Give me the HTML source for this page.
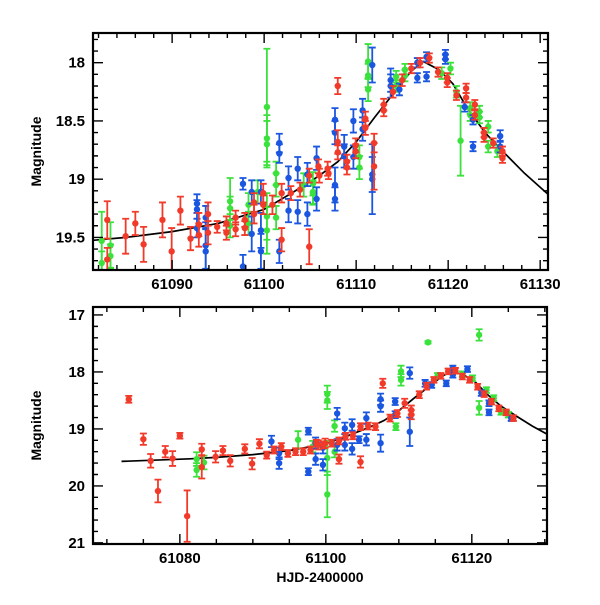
<!DOCTYPE html>
<html><head><meta charset="utf-8"><style>
body{margin:0;background:#fff}
svg text{font-family:"Liberation Sans",sans-serif;fill:#000}
</style></head><body>
<svg id="chart" width="600" height="600" viewBox="0 0 600 600" xmlns="http://www.w3.org/2000/svg"></svg>
<script>
// ---- model curve ----
const modelX=[61072,61081.4,61085,61090,61095,61100,61103,61106,61108,61110,61112,61114,61116,61117.3,61119,61120.5,61122,61124,61126.3,61128.3,61131];
const modelY=[19.57,19.525,19.5,19.45,19.38,19.26,19.12,18.97,18.85,18.68,18.47,18.27,18.07,17.99,18.06,18.18,18.38,18.6,18.79,18.95,19.14];
// ---- top panel ----
const topRedX=[61082.95,61082.95,61084.95,61086,61086.9,61088.95,61089.95,61090.9,61092,61092.9,61092.9,61093.9,61093.9,61094.9,61095.9,61095.9,61096.9,61096.9,61097.9,61097.9,61098.9,61098.9,61099.9,61099.9,61100.9,61101.9,61101.9,61102.9,61103.9,61104.9,61104.9,61105.9,61106.9,61106,61107,61108,61108,61108,61109,61109,61109.95,61109.95,61111,61111,61111.95,61111.95,61113,61113,61114,61115,61116,61116.95,61117.95,61118.9,61119.9,61119.9,61120.9,61121.95,61121.95,61122.9,61122.9,61123.9,61123.9,61124.9,61125.9,61125.9];
const topRedY=[19.35,19.69,19.49,19.38,19.56,19.35,19.62,19.27,19.51,19.39,19.48,19.3,19.46,19.41,19.38,19.46,19.33,19.43,19.35,19.42,19.2,19.3,19.12,19.22,19.22,19.12,19.52,19.12,19.09,18.97,19.58,18.89,18.91,18.97,18.95,18.2,18.68,18.77,18.85,18.9,18.71,18.76,18.48,18.56,18.69,18.89,18.36,18.41,18.25,18.15,18.05,18.0,17.96,18.08,18.13,18.17,18.28,18.22,18.3,18.36,18.45,18.6,18.64,18.69,18.76,18.82];
const topRedE=[0.16,0.1,0.15,0.1,0.15,0.15,0.2,0.12,0.1,0.1,0.1,0.1,0.1,0.05,0.06,0.06,0.06,0.06,0.06,0.06,0.08,0.08,0.08,0.08,0.08,0.08,0.1,0.06,0.06,0.06,0.15,0.06,0.06,0.06,0.05,0.07,0.1,0.06,0.06,0.06,0.06,0.06,0.06,0.06,0.08,0.2,0.05,0.05,0.05,0.05,0.04,0.04,0.04,0.04,0.04,0.04,0.04,0.04,0.04,0.04,0.04,0.04,0.04,0.04,0.04,0.04];
const topBlueX=[61092.7,61092.7,61092.7,61093.65,61093.65,61093.65,61097.7,61097.7,61098.65,61098.65,61099.65,61099.65,61099.65,61101.65,61101.65,61101.65,61102.65,61102.65,61103.65,61103.65,61104.7,61104.7,61105.7,61105.7,61107.7,61107.7,61107.7,61107.7,61108.7,61108.7,61109.7,61109.7,61110.7,61110.7,61111.75,61111.75,61111.75,61113.75,61113.75,61114.7,61116.65,61116.65,61117.65,61117.65,61119.7,61119.7,61121.8,61122.7,61122.7,61125.65,61125.65];
const topBlueY=[19.21,19.26,19.42,19.57,19.62,19.33,19.04,19.75,19.11,19.47,19.11,19.44,19.62,18.69,18.78,19.62,18.99,19.27,18.91,19.28,18.96,19.3,18.82,19.17,18.49,18.6,19.05,19.17,18.72,18.8,18.5,18.81,18.41,18.57,18.02,18.96,19.0,18.15,18.2,18.23,18.0,18.13,17.95,18.12,17.93,17.97,18.38,18.72,18.49,18.63,18.72];
const topBlueE=[0.08,0.08,0.08,0.2,0.2,0.1,0.05,0.1,0.1,0.15,0.1,0.15,0.15,0.08,0.08,0.1,0.1,0.1,0.1,0.1,0.1,0.1,0.1,0.1,0.1,0.1,0.15,0.1,0.1,0.1,0.1,0.1,0.1,0.1,0.15,0.15,0.3,0.1,0.1,0.05,0.04,0.04,0.04,0.04,0.04,0.04,0.04,0.04,0.04,0.05,0.05];
const topGreenX=[61082.35,61082.35,61083.3,61083.3,61096.3,61096.3,61096.3,61098.3,61098.3,61099.3,61100.3,61100.3,61100.3,61100.3,61100.3,61101.3,61101.3,61101.3,61104.3,61105.3,61105.3,61105.3,61110.35,61110.35,61111.3,61111.3,61111.3,61114.35,61114.35,61115.3,61115.3,61119.3,61120.25,61120.9,61121.35,61122.4,61122.4,61123.4,61123.4,61124.35,61124.35,61125.35];
const topGreenY=[19.53,19.72,19.57,19.66,19.19,19.25,19.4,19.22,19.38,19.11,18.38,18.65,18.7,19.32,19.44,18.95,19.05,19.33,19.05,19.12,19.04,19.11,18.81,18.9,17.99,18.11,18.23,18.12,18.2,18.06,18.11,18.09,18.05,18.25,18.67,18.39,18.45,18.42,18.47,18.55,18.72,18.76];
const topGreenE=[0.25,0.1,0.2,0.1,0.2,0.1,0.1,0.1,0.1,0.1,0.5,0.2,0.2,0.2,0.2,0.1,0.1,0.1,0.1,0.1,0.1,0.1,0.1,0.1,0.15,0.1,0.1,0.05,0.05,0.05,0.05,0.05,0.05,0.05,0.3,0.05,0.05,0.05,0.05,0.05,0.05,0.05];
// ---- bottom panel ----
const botRedX=[61073,61075,61076,61077,61078,61079,61080,61081,61083,61083,61084.9,61085.9,61086.9,61088.9,61089.9,61090.9,61091.9,61092.9,61093.9,61094.8,61095.85,61096.9,61097.9,61098.95,61099.9,61098.7,61099.7,61100.8,61101.8,61101.8,61102.7,61103.7,61104.75,61104.75,61105.8,61106.8,61107.8,61108.8,61109.8,61110.8,61111.7,61111.7,61112.8,61113.8,61114.8,61115.75,61116.75,61117.75,61118.7,61119.7,61120.8,61121.7,61122.7,61123.7,61124.7,61125.7];
const botRedY=[18.48,19.18,19.56,20.09,19.4,19.52,19.12,20.53,19.36,19.67,19.49,19.38,19.56,19.35,19.61,19.26,19.46,19.37,19.31,19.43,19.4,19.4,19.37,19.28,19.25,19.25,19.28,19.25,19.53,19.21,19.13,19.12,18.96,19.58,18.95,18.96,18.2,18.81,18.73,18.55,18.67,18.75,18.4,18.25,18.14,18.07,17.99,17.98,18.08,18.14,18.26,18.39,18.52,18.64,18.71,18.81];
const botRedE=[0.06,0.1,0.12,0.2,0.1,0.13,0.05,0.45,0.1,0.2,0.1,0.08,0.1,0.08,0.1,0.08,0.06,0.06,0.06,0.06,0.06,0.06,0.06,0.08,0.08,0.06,0.06,0.06,0.08,0.06,0.06,0.06,0.06,0.1,0.06,0.06,0.08,0.06,0.06,0.08,0.08,0.08,0.06,0.06,0.05,0.05,0.05,0.05,0.05,0.05,0.05,0.05,0.05,0.05,0.05,0.05];
const botBlueX=[61092.55,61093.6,61093.6,61097.6,61097.6,61098.6,61098.6,61099.6,61099.6,61101.55,61101.55,61102.6,61102.6,61103.6,61103.6,61104.55,61105.55,61105.55,61107.5,61107.5,61107.5,61109.5,61109.5,61111.5,61111.5,61113.6,61114.5,61116.5,61117.4,61117.4,61119.4,61121.3,61122.35,61122.35,61125.4];
const botBlueY=[19.22,19.6,19.43,19.04,19.75,19.25,19.53,19.63,19.33,18.73,19.28,18.99,19.28,18.93,19.35,19.19,18.81,19.19,18.48,18.6,19.25,18.52,18.75,18.02,19.05,18.2,18.23,18.2,17.94,18.05,17.95,18.37,18.71,18.55,18.81];
const botBlueE=[0.1,0.1,0.1,0.06,0.06,0.1,0.1,0.1,0.1,0.1,0.1,0.1,0.1,0.1,0.1,0.06,0.1,0.1,0.1,0.1,0.15,0.06,0.06,0.1,0.25,0.06,0.05,0.05,0.05,0.05,0.05,0.05,0.05,0.05,0.05];
const botGreenX=[61082.3,61082.3,61083.3,61096.2,61098.2,61100.2,61100.2,61100.2,61100.2,61101.2,61101.2,61109.6,61110.3,61110.3,61114.0,61115.3,61118.7,61120.1,61121.0,61121.0,61122.0,61123.0,61124.0,61125.0];
const botGreenY=[19.53,19.72,19.59,19.19,19.31,18.39,18.5,19.51,20.15,18.95,19.4,18.96,17.99,18.14,17.48,18.07,18.04,18.11,17.35,18.63,18.32,18.46,18.7,18.75];
const botGreenE=[0.12,0.12,0.12,0.15,0.1,0.15,0.15,0.3,0.4,0.1,0.1,0.06,0.1,0.1,0.02,0.05,0.05,0.05,0.1,0.12,0.05,0.05,0.05,0.05];
const topXTicks=[61090,61100,61110,61120,61130];
const topYTicks=[18,18.5,19,19.5];
const botXTicks=[61080,61100,61120];
const botYTicks=[17,18,19,20,21];

const NS="http://www.w3.org/2000/svg";
const svg=document.getElementById('chart');
function mk(tag,attrs,parent){const e=document.createElementNS(NS,tag);for(const k in attrs)e.setAttribute(k,attrs[k]);(parent||svg).appendChild(e);return e;}
const RED="#f23a2a",BLUE="#1a56e0",GREEN="#3ce23c";

function panel(name,box,xd,yd,xMaj,xMin,yMaj,yMin,xTicks,yTicks,series,curveStart){
  const g=mk('g',{});
  
  
  const sx=v=>box.x0+(v-xd[0])/(xd[1]-xd[0])*(box.x1-box.x0);
  const sy=v=>box.y0+(v-yd[0])/(yd[1]-yd[0])*(box.y1-box.y0);
  const cid='clip-'+name;
  const cp=mk('clipPath',{id:cid},g);mk('rect',{x:box.x0,y:box.y0,width:box.x1-box.x0,height:box.y1-box.y0},cp);
  const plot=mk('g',{'clip-path':'url(#'+cid+')'},g);
  let d='';
  modelX.forEach((x,i)=>{if(x<curveStart)return;d+=(d?'L':'M')+sx(x).toFixed(1)+','+sy(modelY[i]).toFixed(1);});
  const c=mk('path',{d:d,fill:'none',stroke:'#000','stroke-width':1.7},plot);
  
  
  series.forEach(s=>{
    const sg=mk('g',{},plot);
    
    
    s.x.forEach((xv,i)=>{
      const px=sx(xv),py=sy(s.y[i]),y1=sy(s.y[i]-s.e[i]),y2=sy(s.y[i]+s.e[i]);
      mk('path',{d:`M${px},${y1}V${y2}M${px-3.5},${y1}H${px+3.5}M${px-3.5},${y2}H${px+3.5}`,stroke:s.c,'stroke-width':1.8,fill:'none'},sg);
      const p=mk('circle',{cx:px,cy:py,r:3.2,fill:s.c},sg);
      
      
    });
  });
  let t='';
  for(let v=Math.ceil(xd[0]/xMin)*xMin;v<=xd[1]+1e-9;v+=xMin){const isM=Math.abs(v/xMaj-Math.round(v/xMaj))<1e-6;const L=isM?10:5;const px=sx(v);t+=`M${px},${box.y1}v${-L}M${px},${box.y0}v${L}`;}
  for(let v=Math.ceil(yd[0]/yMin-1e-9)*yMin;v<=yd[1]+1e-9;v+=yMin){const isM=Math.abs(v/yMaj-Math.round(v/yMaj))<1e-6;const L=isM?10:5;const py=sy(v);t+=`M${box.x0},${py}h${L}M${box.x1},${py}h${-L}`;}
  mk('path',{d:t,stroke:'#000','stroke-width':1.4,fill:'none'},g);
  const fr=mk('rect',{x:box.x0,y:box.y0,width:box.x1-box.x0,height:box.y1-box.y0,fill:'none',stroke:'#000','stroke-width':2.2},g);
  
  
  xTicks.forEach(v=>{const tx=mk('text',{x:sx(v),y:box.y1+19,'text-anchor':'middle','font-size':15,'font-weight':'bold'},g);tx.textContent=v;
    
    });
  yTicks.forEach(v=>{const tx=mk('text',{x:box.x0-8,y:sy(v)+5,'text-anchor':'end','font-size':15,'font-weight':'bold'},g);tx.textContent=v;
    
    });
  const yl=mk('text',{x:0,y:0,'text-anchor':'middle','font-size':14,'font-weight':'bold',transform:`translate(41,${(box.y0+box.y1)/2}) rotate(-90)`},g);
  yl.textContent='Magnitude';
  
  
}
panel('top-panel',{x0:93,x1:548,y0:33,y1:270},[61081.4,61130.85],[17.745,19.78],10,2,0.5,0.1,topXTicks,topYTicks,
 [{name:'green-series',x:topGreenX,y:topGreenY,e:topGreenE,c:GREEN},{name:'blue-series',x:topBlueX,y:topBlueY,e:topBlueE,c:BLUE},{name:'red-series',x:topRedX,y:topRedY,e:topRedE,c:RED}],61000);
panel('bottom-panel',{x0:93,x1:547,y0:307,y1:544},[61068.1,61130.3],[16.86,21.02],20,5,1,0.2,botXTicks,botYTicks,
 [{name:'green-series',x:botGreenX,y:botGreenY,e:botGreenE,c:GREEN},{name:'blue-series',x:botBlueX,y:botBlueY,e:botBlueE,c:BLUE},{name:'red-series',x:botRedX,y:botRedY,e:botRedE,c:RED}],61072);
const xl=mk('text',{x:320,y:582,'text-anchor':'middle','font-size':14,'font-weight':'bold'});
xl.textContent='HJD-2400000';


</script>
</body></html>
